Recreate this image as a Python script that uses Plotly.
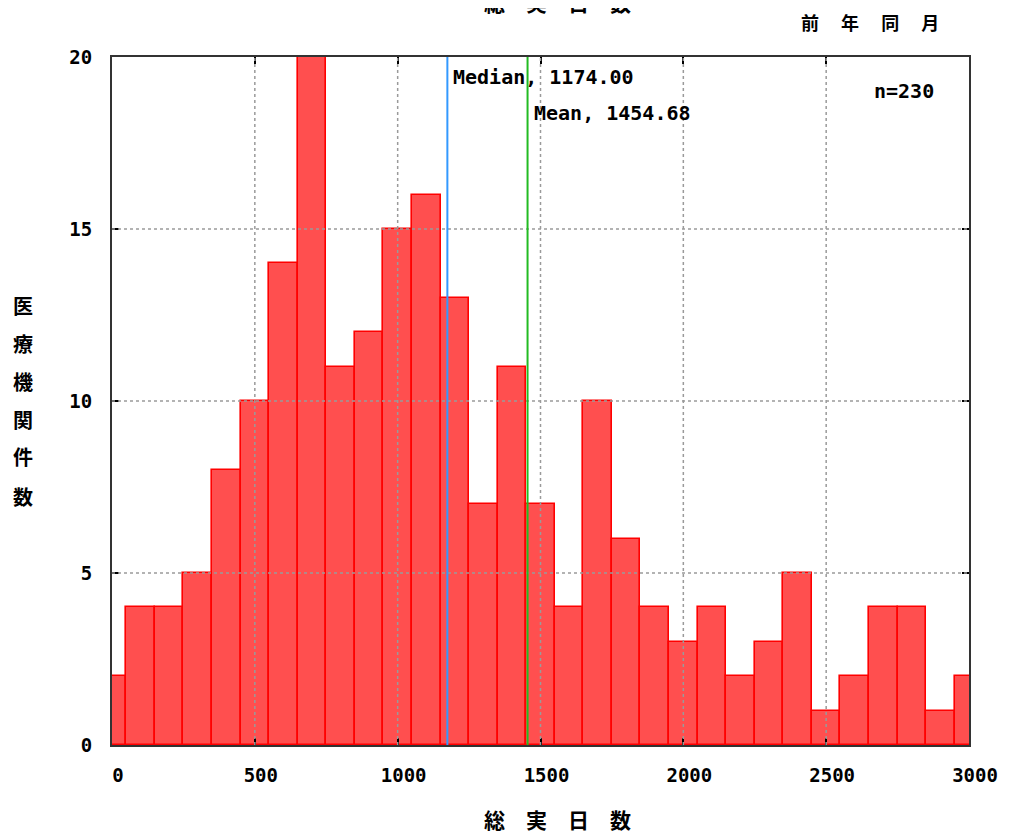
import plotly.graph_objects as go

bin_centers = [0, 100, 200, 300, 400, 500, 600, 700, 800, 900, 1000, 1100, 1200, 1300, 1400,
               1500, 1600, 1700, 1800, 1900, 2000, 2100, 2200, 2300, 2400, 2500, 2600, 2700,
               2800, 2900, 3000]
counts = [2, 4, 4, 5, 8, 10, 14, 20, 11, 12, 15, 16, 13, 7, 11,
          7, 4, 10, 6, 4, 3, 4, 2, 3, 5, 1, 2, 4, 4, 1, 2]
median_val = 1174.00
mean_val = 1454.68
n_total = 230
x_ticks = [0, 500, 1000, 1500, 2000, 2500, 3000]
y_ticks = [0, 5, 10, 15, 20]
title_text = "総\u3000実\u3000日\u3000数"
subtitle_text = "前\u3000\u00a0年\u3000\u00a0同\u3000\u00a0月"
y_title_chars = ["医", "療", "機", "関", "件", "数"]

# page body has an 8px margin; figure is offset accordingly
OFF = 8
W, H = 1010 - OFF, 834 - OFF
L, R, T, B = 112 - OFF, 39, 57 - OFF, 89
PW, PH = W - L - R, H - T - B

def py(p):  # window pixel y -> paper
    return (834 - B - p) / PH

def px(p):  # window pixel x -> paper
    return (p - 112) / PW

mono = dict(family="DejaVu Sans Mono", size=19, color="black", weight="bold")
mono_ann = dict(family="DejaVu Sans Mono", size=20, color="black", weight="bold")
jp_big = dict(family="Noto Sans CJK JP", size=21, color="black", weight="bold")
jp_sub = dict(family="Noto Sans CJK JP", size=18, color="black", weight="bold")
jp_y = dict(family="Noto Sans CJK JP", size=20, color="black", weight="bold")

fig = go.Figure()
fig.add_trace(go.Bar(
    x=bin_centers, y=counts, width=100,
    marker=dict(color="rgba(255,0,0,0.69)", line=dict(color="#ff0000", width=1.6)),
    showlegend=False,
))

shapes = []
for xv in x_ticks[1:-1]:
    shapes.append(dict(type="line", xref="x", yref="paper", x0=xv, x1=xv, y0=0, y1=1,
                       line=dict(color="#9a9a9a", width=1.5, dash="dot"), layer="above"))
for yv in y_ticks[1:-1]:
    shapes.append(dict(type="line", xref="paper", yref="y", x0=0, x1=1, y0=yv, y1=yv,
                       line=dict(color="#9a9a9a", width=1.5, dash="dot"), layer="above"))
shapes.append(dict(type="line", xref="x", yref="paper", x0=median_val, x1=median_val, y0=0, y1=1,
                   line=dict(color="#3399ff", width=2), layer="above"))
shapes.append(dict(type="line", xref="x", yref="paper", x0=mean_val, x1=mean_val, y0=0, y1=1,
                   line=dict(color="#22bb22", width=2), layer="above"))

annotations = [
    dict(text=f"Median, {median_val:.2f}", x=median_val, xref="x", xshift=4, y=py(77), yref="paper",
         xanchor="left", yanchor="middle", showarrow=False, font=mono_ann),
    dict(text=f"Mean, {mean_val:.2f}", x=mean_val, xref="x", xshift=4, y=py(113), yref="paper",
         xanchor="left", yanchor="middle", showarrow=False, font=mono_ann),
    dict(text=f"n={n_total}", x=px(938), y=py(91), xref="paper", yref="paper",
         xanchor="right", yanchor="middle", showarrow=False, font=mono_ann),
    dict(text=title_text, x=px(559), y=py(2), xref="paper", yref="paper",
         xanchor="center", yanchor="middle", showarrow=False, font=jp_big),
    dict(text=subtitle_text, x=px(872), y=py(22), xref="paper", yref="paper",
         xanchor="center", yanchor="middle", showarrow=False, font=jp_sub),
    dict(text=title_text, x=px(559), y=py(819), xref="paper", yref="paper",
         xanchor="center", yanchor="middle", showarrow=False, font=jp_big),
]
ys = [305, 343, 382, 419, 457, 496]
for ch, yp in zip(y_title_chars, ys):
    annotations.append(dict(text=ch, x=px(23), y=py(yp), xref="paper", yref="paper",
                            xanchor="center", yanchor="middle", showarrow=False, font=jp_y))

fig.update_layout(
    width=W, height=H,
    margin=dict(l=L, r=R, t=T, b=B),
    plot_bgcolor="white", paper_bgcolor="white",
    bargap=0,
    shapes=shapes,
    annotations=annotations,
    xaxis=dict(range=[0, 3000], tickvals=x_ticks, ticktext=[str(v) for v in x_ticks],
               showgrid=False, zeroline=False, showline=True, linecolor="#333333", linewidth=2,
               mirror="ticks", ticks="inside", ticklen=7, tickcolor="black", tickwidth=2,
               tickfont=mono, layer="above traces", ticklabelstandoff=12, ticklabelshift=6),
    yaxis=dict(range=[0, 20], tickvals=y_ticks, ticktext=[str(v) for v in y_ticks],
               showgrid=False, zeroline=False, showline=True, linecolor="#333333", linewidth=2,
               mirror="ticks", ticks="inside", ticklen=7, tickcolor="black", tickwidth=2,
               tickfont=mono, layer="above traces", ticklabelstandoff=14),
)

fig.write_html("out.html")
